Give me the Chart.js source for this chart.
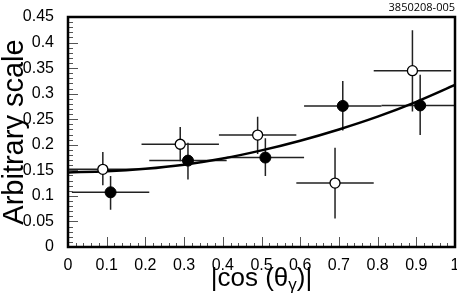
<!DOCTYPE html>
<html lang="en">
  <head>
    <meta charset="UTF-8" />
    <title>Arbitrary scale vs |cos(theta_gamma)|</title>
    <script src="https://cdn.jsdelivr.net/npm/chart.js"></script>
    <style>
      body {
        margin: 0;
        background: white;
      }
    </style>
  </head>
  <body>
    <canvas id="cosChart" width="457" height="306"></canvas>

    <script>
      // open circles
      const openX = [0.09, 0.29, 0.49, 0.69, 0.89];
      const openY = [0.152, 0.201, 0.219, 0.125, 0.345];
      const openYLow = [0.121, 0.168, 0.182, 0.056, 0.265];
      const openYHigh = [0.186, 0.235, 0.255, 0.194, 0.424];
      const openXLow = [-0.01, 0.19, 0.39, 0.59, 0.79];
      const openXHigh = [0.19, 0.39, 0.59, 0.79, 0.99];

      // filled circles
      const filledX = [0.11, 0.31, 0.51, 0.71, 0.91];
      const filledY = [0.107, 0.169, 0.175, 0.276, 0.277];
      const filledYLow = [0.073, 0.132, 0.139, 0.228, 0.219];
      const filledYHigh = [0.139, 0.204, 0.213, 0.325, 0.337];
      const filledXLow = [0.01, 0.21, 0.41, 0.61, 0.81];
      const filledXHigh = [0.21, 0.41, 0.61, 0.81, 1.01];

      // fitted curve
      const fitX = [0, 0.1, 0.2, 0.3, 0.4, 0.5, 0.6, 0.7, 0.8, 0.9, 1.0];
      const fitY = [0.146, 0.148, 0.153, 0.161, 0.173, 0.189, 0.208, 0.23, 0.255, 0.284, 0.317];

      const xTitleParts = ["|cos (\u03b8", "\u03b3", ")|"];
      const codeLabel = "3850208-005";

      const toPoints = (xs, ys) => xs.map((x, i) => ({ x: x, y: ys[i] }));

      const errorSets = [
        { xs: openX, ys: openY, xl: openXLow, xh: openXHigh, yl: openYLow, yh: openYHigh },
        { xs: filledX, ys: filledY, xl: filledXLow, xh: filledXHigh, yl: filledYLow, yh: filledYHigh },
      ];

      const decor = {
        id: "decor",
        beforeDatasetsDraw(chart) {
          const { ctx, chartArea: a, scales } = chart;
          const sx = scales.x, sy = scales.y;
          ctx.save();
          ctx.beginPath();
          ctx.rect(a.left, a.top, a.right - a.left, a.bottom - a.top);
          ctx.clip();
          ctx.strokeStyle = "#222";
          ctx.lineWidth = 1.5;
          errorSets.forEach((s) => {
            s.xs.forEach((x, i) => {
              const px = sx.getPixelForValue(x);
              const py = sy.getPixelForValue(s.ys[i]);
              ctx.beginPath();
              ctx.moveTo(sx.getPixelForValue(s.xl[i]), py);
              ctx.lineTo(sx.getPixelForValue(s.xh[i]), py);
              ctx.moveTo(px, sy.getPixelForValue(s.yl[i]));
              ctx.lineTo(px, sy.getPixelForValue(s.yh[i]));
              ctx.stroke();
            });
          });
          ctx.restore();
        },
        afterDraw(chart) {
          const { ctx, chartArea: a, scales } = chart;
          const sx = scales.x, sy = scales.y;
          ctx.save();
          // inward ticks
          ctx.lineWidth = 1;
          ctx.strokeStyle = "#555";
          for (let k = 0; k <= 50; k++) {
            const v = k * 0.02;
            const px = Math.round(sx.getPixelForValue(v)) + 0.5;
            const len = k % 5 === 0 ? 10 : 4;
            ctx.beginPath();
            ctx.moveTo(px, a.bottom);
            ctx.lineTo(px, a.bottom - len);
            ctx.stroke();
          }
          for (let k = 0; k <= 45; k++) {
            const v = k * 0.01;
            const py = Math.round(sy.getPixelForValue(v)) + 0.5;
            const len = k % 5 === 0 ? 10 : 5;
            ctx.beginPath();
            ctx.moveTo(a.left, py);
            ctx.lineTo(a.left + len, py);
            ctx.stroke();
          }
          // frame
          ctx.strokeStyle = "#000";
          ctx.lineWidth = 2.5;
          ctx.strokeRect(a.left, a.top, a.right - a.left, a.bottom - a.top);

          // x title with subscript gamma
          ctx.fillStyle = "#000";
          ctx.textBaseline = "alphabetic";
          ctx.textAlign = "left";
          const big = '26px "Liberation Sans", Arial, sans-serif';
          const small = '17px "Liberation Sans", Arial, sans-serif';
          ctx.font = big;
          const w0 = ctx.measureText(xTitleParts[0]).width;
          const w2 = ctx.measureText(xTitleParts[2]).width;
          ctx.font = small;
          const w1 = ctx.measureText(xTitleParts[1]).width;
          let tx = (a.left + a.right) / 2 - (w0 + w1 + w2) / 2;
          const base = 286;
          ctx.font = big;
          ctx.fillText(xTitleParts[0], tx, base);
          tx += w0;
          ctx.font = small;
          ctx.fillText(xTitleParts[1], tx, base + 4);
          tx += w1;
          ctx.font = big;
          ctx.fillText(xTitleParts[2], tx, base);

          // code label in the corner
          ctx.font = '11px "Open Sans", sans-serif';
          ctx.textAlign = "right";
          ctx.fillText(codeLabel, 455, 11);
          ctx.restore();
        },
      };

      const ctx = document.getElementById("cosChart").getContext("2d");
      const cosChart = new Chart(ctx, {
        type: "scatter",
        data: {
          datasets: [
            {
              label: "open",
              data: toPoints(openX, openY),
              pointStyle: "circle",
              pointRadius: 5,
              pointBackgroundColor: "#fff",
              pointBorderColor: "#000",
              pointBorderWidth: 1.3,
              order: 1,
            },
            {
              label: "filled",
              data: toPoints(filledX, filledY),
              pointStyle: "circle",
              pointRadius: 5.5,
              pointBackgroundColor: "#000",
              pointBorderColor: "#000",
              pointBorderWidth: 1,
              order: 2,
            },
            {
              label: "fit",
              type: "line",
              data: toPoints(fitX, fitY),
              borderColor: "#000",
              borderWidth: 2.5,
              pointRadius: 0,
              cubicInterpolationMode: "monotone",
              fill: false,
              order: 3,
            },
          ],
        },
        options: {
          responsive: false,
          animation: false,
          events: [],
          layout: { autoPadding: false, padding: { top: 17, right: 2, left: 0, bottom: 0 } },
          plugins: {
            legend: { display: false },
            tooltip: { enabled: false },
          },
          scales: {
            x: {
              type: "linear",
              min: 0,
              max: 1,
              grid: { display: false },
              border: { display: false },
              afterFit: (scale) => {
                scale.height = 59;
                scale.paddingLeft = 0;
                scale.paddingRight = 0;
              },
              ticks: {
                stepSize: 0.1,
                padding: 1,
                color: "#000",
                font: { family: '"Liberation Sans", Arial, sans-serif', size: 16 },
                callback: (v) => Number(v.toFixed(2)).toString(),
              },
            },
            y: {
              type: "linear",
              min: 0,
              max: 0.45,
              grid: { display: false },
              border: { display: false },
              afterFit: (scale) => {
                scale.width = 68;
                scale.paddingTop = 0;
                scale.paddingBottom = 0;
              },
              title: {
                display: true,
                text: "Arbitrary scale",
                color: "#000",
                padding: { top: 0, bottom: 0 },
                font: { family: '"Liberation Sans", Arial, sans-serif', size: 29, lineHeight: 1.0 },
              },
              ticks: {
                stepSize: 0.05,
                padding: 6,
                color: "#000",
                font: { family: '"Liberation Sans", Arial, sans-serif', size: 16 },
                callback: (v) => Number(v.toFixed(2)).toString(),
              },
            },
          },
        },
        plugins: [decor],
      });
    </script>
  </body>
</html>
